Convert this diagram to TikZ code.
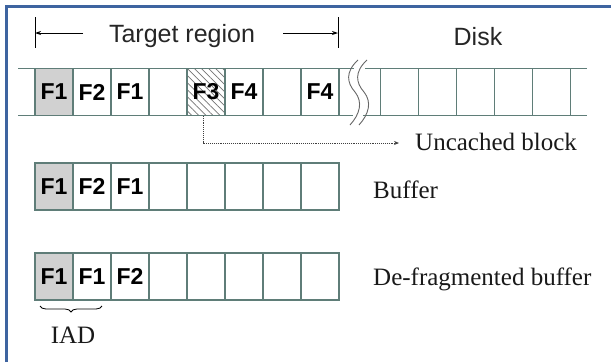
\documentclass[tikz,border=0pt]{standalone}
\usepackage{fontspec}
\setmainfont{Liberation Serif}
\setsansfont{Liberation Sans}
\usetikzlibrary{patterns,patterns.meta,decorations.pathreplacing,arrows.meta}
\definecolor{frameblue}{RGB}{62,100,160}
\definecolor{cellline}{RGB}{95,125,120}
\tikzset{
  cellbox/.style={draw=cellline, line width=1.1pt, minimum width=38pt, minimum height=47pt,
    inner sep=0pt, font=\sffamily\bfseries\fontsize{23}{26}\selectfont, text=black},
  plaincell/.style={},
  shadedcell/.style={fill=black!18},
  hatchcell/.style={pattern={Lines[angle=-45,distance=5pt,line width=0.7pt]}, pattern color=black!55},
  sanslabel/.style={font=\sffamily\fontsize{25}{30}\selectfont, inner sep=0pt, text=black!85},
  seriflabel/.style={font=\fontsize{25}{30}\selectfont, inner sep=0pt, text=black!90},
  rowline/.style={draw=cellline, line width=1.1pt},
  breakline/.style={draw=black!60, line width=0.9pt},
  dimarrow/.style={draw=black, line width=0.9pt, -{Stealth[length=6pt,width=4pt]}},
  dotarrow/.style={draw=black!75, line width=0.9pt, densely dotted, -{Stealth[length=5pt,width=4pt]}},
}
\begin{document}
\begin{tikzpicture}[x=1pt,y=-1pt]
\useasboundingbox (0,0) rectangle (611,362);
% frame
\draw[frameblue, line width=3pt] (6.5,362) -- (6.5,6.5) -- (611,6.5);

% target region dimension
\coordinate (trL) at (35,33);
\coordinate (trR) at (338,33);
\coordinate (ta1) at (83,33);
\coordinate (ta2) at (283,33);
\draw[line width=0.9pt] (35,17) -- (35,48);
\draw[line width=0.9pt] (338,17) -- (338,48);
\node[sanslabel, anchor=base] (tr) at (182,42) {Target region};
\draw[dimarrow] (ta1) -- (trL);
\draw[dimarrow] (ta2) -- (trR);
\node[sanslabel, anchor=base] (disk) at (478,45) {Disk};

% disk row
\foreach \i/\t/\s in {1/F1/shadedcell,2/F2/plaincell,3/F1/plaincell,4//plaincell,
                      5/F3/hatchcell,6/F4/plaincell,7//plaincell,8/F4/plaincell}
  \node[cellbox,\s] (d\i) at ({35+38*(\i-0.5)},92) {\t};
\foreach \i in {1,...,5}
  \node[cellbox] (e\i) at ({380+38.2*(\i-0.5)},92) {};
\draw[rowline] (18,68.5) -- (354,68.5);
\draw[rowline] (18,115.5) -- (353,115.5);
\draw[rowline] (365,68.5) -- (587,68.5);
\draw[rowline] (363,115.5) -- (587,115.5);
% break marks
\draw[breakline] (358,60) .. controls (345,72) and (347,83) .. (355,92)
                 .. controls (363,102) and (360,114) .. (350,125);
\draw[breakline] (367,60) .. controls (354,72) and (356,83) .. (364,92)
                 .. controls (372,102) and (369,114) .. (359,125);

% uncached block
\node[seriflabel, anchor=base west] (unc) at (415,150) {Uncached block};
\coordinate (uncend) at (399,143);
\draw[dotarrow] ([xshift=-3pt]d5.south) |- (uncend);

% buffer row
\foreach \i/\t/\s in {1/F1/shadedcell,2/F2/plaincell,3/F1/plaincell,4//plaincell,
                      5//plaincell,6//plaincell,7//plaincell,8//plaincell}
  \node[cellbox,\s] (b\i) at ({35+38*(\i-0.5)},186.5) {\t};
\node[seriflabel, anchor=base west] (buf) at (373,198) {Buffer};

% de-fragmented row
\foreach \i/\t/\s in {1/F1/shadedcell,2/F1/plaincell,3/F2/plaincell,4//plaincell,
                      5//plaincell,6//plaincell,7//plaincell,8//plaincell}
  \node[cellbox,\s] (f\i) at ({35+38*(\i-0.5)},276.5) {\t};
\node[seriflabel, anchor=base west] (dbuf) at (373,285) {De-fragmented buffer};

% IAD brace
\coordinate (br1) at (40,306);
\coordinate (br2) at (102,306);
\draw[line width=0.8pt, decorate, decoration={brace, amplitude=6pt, mirror}] (br1) -- (br2);
\node[seriflabel, anchor=base] (iad) at (73,343) {IAD};
\end{tikzpicture}
\end{document}
